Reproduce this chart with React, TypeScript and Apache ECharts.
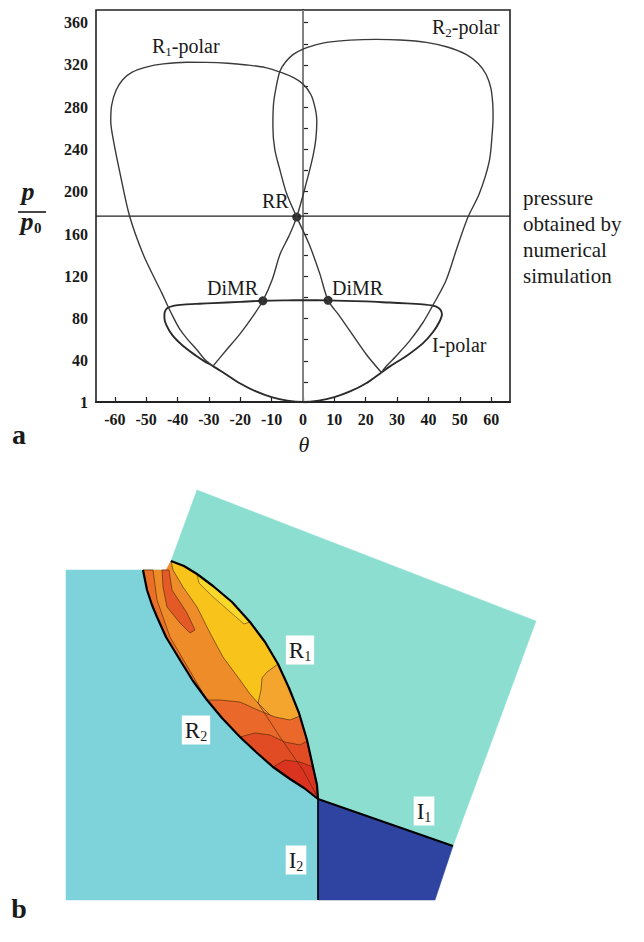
import React, { useEffect, useRef } from 'react';
import * as echarts from 'echarts';

const SERIF = '"Liberation Serif", "Times New Roman", serif';

// ---------- Panel a: shock polars (theta in degrees, p/p0) ----------
const iPolar: number[][] = [
  [0, 97.3], [-5, 97.2], [-12.8, 96.8], [-20, 95.8], [-28.7, 94.6], [-33, 94], [-38, 93.2], [-41, 92.2],
  [-43.2, 90], [-44.1, 86], [-44.2, 81], [-43.6, 74], [-41.6, 64], [-38.4, 54.5], [-34.2, 45], [-31.4, 39.5],
  [-28.7, 35], [-25, 28], [-20, 18.5], [-15, 11], [-10, 5.6], [-5, 2.3], [0, 1],
  [5, 2.3], [10, 5.6], [15, 11], [20, 18.5], [25, 29], [27.6, 34.5], [30.3, 39.5], [33.2, 45],
  [38.2, 56.5], [41.4, 67], [43.5, 77], [44.3, 84], [43.8, 88.5], [42.3, 91.5], [39, 93.2],
  [33, 94.3], [27.6, 95.1], [20, 96.2], [8, 97.2], [0, 97.3],
];
const r1Polar: number[][] = [
  [-28.7, 35], [-31.2, 41], [-34, 51], [-37, 61], [-39.5, 71], [-41.5, 82], [-43.3, 93], [-45, 104],
  [-47, 116], [-51, 141], [-55.3, 177], [-58.3, 217], [-60.4, 248], [-61.3, 267], [-61, 282],
  [-59.6, 296], [-57.5, 306], [-54.6, 313], [-50, 318], [-44.5, 321], [-37, 322.5], [-30.8, 322.4],
  [-24, 321.6], [-18, 320], [-12, 317.5], [-7, 313], [-3, 308], [0, 302], [2.5, 292], [3.8, 280],
  [4.4, 267], [4.1, 250], [3.2, 234], [1.2, 210], [-2, 176], [-4.5, 158], [-7.3, 141], [-9.8, 117],
  [-12.8, 96.8], [-16, 82], [-20.2, 65], [-24.5, 50], [-28.7, 35],
];
const r2Polar: number[][] = [
  [25, 29], [20.2, 46], [15, 68], [11.5, 83], [8, 97.2], [5.4, 122], [2, 150], [-2, 176], [-5.2, 198],
  [-7.3, 220], [-9, 240], [-9.6, 262], [-9.4, 283], [-8.5, 300], [-7.3, 314.5], [-5.5, 323], [-3.1, 330],
  [0, 335], [4, 339], [7.5, 341.4], [15, 343.5], [23.4, 344.2], [31, 343.6], [39.3, 341.4], [46, 337],
  [52, 330], [56, 321], [58.4, 311], [59.9, 298], [60.5, 283], [60.6, 270], [60.4, 258], [59.4, 229],
  [56.2, 198], [52.6, 176], [49, 146], [45.6, 116], [41.3, 92], [38.2, 76], [34, 58.8], [29.7, 44.5],
  [26.6, 35], [25, 29],
];
const rrPoint: number[][] = [[-2, 176]];
const dimrPoints: number[][] = [[-12.8, 96.8], [8, 97.2]];
const simulatedPressure = 177;
const xTickValues = [-60, -50, -40, -30, -20, -10, 0, 10, 20, 30, 40, 50, 60];
const yLabelValues = [1, 40, 80, 120, 160, 200, 240, 280, 320, 360];
const yTickValues = [1, 20, 40, 60, 80, 100, 120, 140, 160, 180, 200, 220, 240, 260, 280, 300, 320, 340, 360];

// ---------- Panel b: schematic flow field (schematic units) ----------
const regionR2Side: number[][] = [[0, 3], [0, 333], [252, 333], [252, 3]];
const r1Edge: number[][] = [
  [105, 342], [118, 337], [131, 329], [147, 317], [166, 301], [184, 281], [199, 261], [212, 239],
  [223, 215], [233, 190], [241, 163], [247, 136], [251, 118], [252, 104],
];
const r2Edge: number[][] = [
  [77, 333], [81, 313], [86, 298], [91, 286], [100, 266], [114, 243], [127, 222], [141, 203],
  [156, 185], [174, 166], [190, 151], [207, 136], [224, 124], [238, 115], [252, 104],
];
const regionR1Side: number[][] = [[131, 413], [470, 282], [387, 57], [252, 104]];
const regionI: number[][] = [[252, 104], [387, 57], [369, 3], [252, 3]];
const lensTop: number[][] = [[100, 333]];
const lightOrangeZone: number[][] = [
  [199, 261], [212, 239], [223, 215], [233, 190], [241, 163], [247, 136], [234, 143], [219, 168],
  [204, 188], [192, 200], [189, 213], [194, 233],
];
const yellowZone: number[][] = [
  [105, 342], [118, 337], [131, 329], [147, 317], [166, 301], [184, 281], [199, 261], [212, 239],
  [201, 231], [196, 225], [195, 213], [192, 200], [184, 209], [174, 223], [157, 246], [144, 270],
  [131, 296], [117, 316], [107, 333],
];
const brightYellowZone: number[][] = [
  [131, 329], [147, 317], [166, 301], [184, 281], [178, 279], [162, 293], [146, 307], [133, 320],
];
const redOrangeZone: number[][] = [
  [141, 203], [156, 185], [174, 166], [190, 151], [207, 136], [224, 124], [238, 115], [252, 104],
  [251, 118], [247, 136], [241, 163], [234, 187], [224, 183], [209, 186], [194, 192], [174, 201], [154, 203],
];
const redZone: number[][] = [
  [174, 166], [190, 151], [207, 136], [224, 124], [238, 115], [252, 104], [251, 118], [247, 136],
  [241, 162], [234, 158], [219, 161], [204, 168], [189, 170],
];
const deepRedZone: number[][] = [
  [207, 136], [224, 124], [238, 115], [252, 104], [251, 118], [247, 136], [234, 141], [219, 143],
];
const r2BandZone: number[][] = [
  [77, 333], [81, 313], [86, 298], [91, 286], [100, 266], [114, 243], [127, 222], [141, 203],
  [131, 220], [104, 266], [91, 303], [87, 333],
];
const darkStripeZone: number[][] = [
  [96, 333], [103, 333], [106, 313], [121, 290], [129, 273], [124, 270], [114, 280], [101, 296], [97, 316],
];
const centerContour: number[][] = [[192, 200], [214, 166], [237, 133], [252, 105]];
const i1Shock: number[][] = [[252, 104], [387, 57]];
const i2Shock: number[][] = [[252, 104], [252, 3]];

export default function App() {
  const ref = useRef<HTMLDivElement>(null);

  useEffect(() => {
    if (!ref.current) return;
    const chart = echarts.init(ref.current, undefined, { renderer: 'svg' });

    // lens: r2 edge down to the junction, r1 edge back up to the tip, then the flat top
    const lensPoly = [...r2Edge, ...[...r1Edge].reverse().slice(1), ...lensTop];
    const tealPoly = [...regionR1Side, ...[...r1Edge].reverse().slice(1)];
    const contour = 'rgba(70,35,5,0.75)';
    const bShapes: any[] = [
      { kind: 'polygon', pts: regionR2Side, fill: '#7dd3d9' },
      { kind: 'polygon', pts: tealPoly, fill: '#8cdfd0' },
      { kind: 'polygon', pts: regionI, fill: '#2f43a0' },
      { kind: 'polygon', pts: lensPoly, fill: '#ef8c2a' },
      { kind: 'polygon', pts: r2BandZone, fill: '#ea7028', stroke: contour, lw: 0.8 },
      { kind: 'polygon', pts: darkStripeZone, fill: '#e45a26', stroke: contour, lw: 0.8 },
      { kind: 'polygon', pts: lightOrangeZone, fill: '#f4a52e', stroke: contour, lw: 0.8 },
      { kind: 'polygon', pts: yellowZone, fill: '#f8c41c', stroke: contour, lw: 0.8 },
      { kind: 'polygon', pts: brightYellowZone, fill: '#f9d82c', stroke: contour, lw: 0.7 },
      { kind: 'polygon', pts: redOrangeZone, fill: '#e9682a', stroke: contour, lw: 0.8 },
      { kind: 'polygon', pts: redZone, fill: '#e24c25', stroke: contour, lw: 0.8 },
      { kind: 'polygon', pts: deepRedZone, fill: '#da331f', stroke: contour, lw: 0.8 },
      { kind: 'line', pts: centerContour, stroke: contour, lw: 0.8 },
      { kind: 'line', pts: r1Edge, stroke: '#000', lw: 2.2 },
      { kind: 'line', pts: r2Edge, stroke: '#000', lw: 2.2 },
      { kind: 'line', pts: i1Shock, stroke: '#000', lw: 2 },
      { kind: 'line', pts: i2Shock, stroke: '#000', lw: 1.6 },
    ];

    const txt = (x: number, y: number, text: string, size: number, extra: any = {}) => ({
      type: 'text',
      x,
      y,
      z: 100,
      silent: true,
      style: {
        text,
        fontFamily: SERIF,
        fontSize: size,
        fill: '#1a1a1a',
        textAlign: 'left',
        textVerticalAlign: 'middle',
        ...extra,
      },
    });
    const subRich = (size: number, sub: number) => ({
      n: { fontFamily: SERIF, fontSize: size, fill: '#1a1a1a', lineHeight: size + 4, verticalAlign: 'middle' },
      s: { fontFamily: SERIF, fontSize: sub, fill: '#1a1a1a', lineHeight: sub + 1, verticalAlign: 'bottom' },
    });
    const boxLabel = (x: number, y: number, main: string, sub: string) => ({
      type: 'text',
      x,
      y,
      z: 100,
      silent: true,
      style: {
        text: `{n|${main}}{s|${sub}}`,
        rich: subRich(23, 14),
        textAlign: 'center',
        textVerticalAlign: 'middle',
        backgroundColor: '#ffffff',
        padding: [1, 3, 1, 3],
      },
    });

    const axisLabelFont = { fontFamily: SERIF, fontSize: 15, fontWeight: 'bold', color: '#1a1a1a' };

    chart.setOption({
      animation: false,
      backgroundColor: '#ffffff',
      grid: [
        { left: 96, top: 10, width: 414, height: 392, show: true, borderColor: '#222', borderWidth: 1.6, backgroundColor: 'transparent' },
        { left: 66, top: 488, width: 475, height: 415, show: false },
      ],
      xAxis: [
        {
          gridIndex: 0,
          type: 'value',
          min: -66,
          max: 66,
          axisLine: { show: true, lineStyle: { color: '#222', width: 2 } },
          axisTick: { show: true, inside: true, length: 5, customValues: xTickValues, lineStyle: { color: '#222', width: 1.2 } },
          axisLabel: { show: true, customValues: xTickValues, margin: 9, ...axisLabelFont, fontSize: 16 },
          splitLine: { show: false },
        },
        { gridIndex: 1, type: 'value', min: 0, max: 475, show: false },
      ],
      yAxis: [
        {
          gridIndex: 0,
          type: 'value',
          min: 1,
          max: 372,
          axisLine: { show: true, lineStyle: { color: '#222', width: 2 } },
          axisTick: { show: true, inside: true, length: 5, customValues: yTickValues, lineStyle: { color: '#222', width: 1.2 } },
          axisLabel: { show: true, customValues: yLabelValues, margin: 8, ...axisLabelFont, fontSize: 16 },
          splitLine: { show: false },
        },
        { gridIndex: 1, type: 'value', min: 0, max: 415, show: false },
      ],
      series: [
        {
          type: 'line', xAxisIndex: 0, yAxisIndex: 0, silent: true, symbol: 'none',
          data: [[0, 1], [0, 372]], lineStyle: { color: '#9a9a9a', width: 1.6 },
        },
        {
          type: 'line', xAxisIndex: 0, yAxisIndex: 0, silent: true, symbol: 'none',
          data: [[-66, simulatedPressure], [66, simulatedPressure]], lineStyle: { color: '#222', width: 1.2 },
        },
        {
          name: 'I-polar', type: 'line', xAxisIndex: 0, yAxisIndex: 0, silent: true, symbol: 'none', smooth: 0.3,
          data: iPolar, lineStyle: { color: '#2a2a2a', width: 1.9 },
        },
        {
          name: 'R1-polar', type: 'line', xAxisIndex: 0, yAxisIndex: 0, silent: true, symbol: 'none', smooth: 0.3,
          data: r1Polar, lineStyle: { color: '#3a3a3a', width: 1.4 },
        },
        {
          name: 'R2-polar', type: 'line', xAxisIndex: 0, yAxisIndex: 0, silent: true, symbol: 'none', smooth: 0.3,
          data: r2Polar, lineStyle: { color: '#3a3a3a', width: 1.4 },
        },
        {
          type: 'scatter', xAxisIndex: 0, yAxisIndex: 0, silent: true, symbolSize: 9,
          data: [...rrPoint, ...dimrPoints], itemStyle: { color: '#000' },
        },
        {
          type: 'custom', xAxisIndex: 1, yAxisIndex: 1, silent: true, clip: false,
          data: bShapes.map((s) => s.pts[0]),
          encode: { x: 0, y: 1 },
          renderItem: (params: any, api: any) => {
            const s = bShapes[params.dataIndex];
            const points = s.pts.map((p: number[]) => api.coord(p));
            if (s.kind === 'polygon') {
              return {
                type: 'polygon',
                shape: { points },
                style: { fill: s.fill, stroke: s.stroke || s.fill, lineWidth: s.lw || 0.5 },
              };
            }
            return {
              type: 'polyline',
              shape: { points },
              style: { fill: 'none', stroke: s.stroke, lineWidth: s.lw, lineJoin: 'round' },
            };
          },
        },
      ],
      graphic: [
        {
          type: 'text', x: 152, y: 46, z: 100, silent: true,
          style: { text: '{n|R}{s|1}{n|-polar}', rich: subRich(20, 13), textVerticalAlign: 'middle' },
        },
        {
          type: 'text', x: 432, y: 27, z: 100, silent: true,
          style: { text: '{n|R}{s|2}{n|-polar}', rich: subRich(20, 13), textVerticalAlign: 'middle' },
        },
        txt(262, 201, 'RR', 20),
        txt(207, 288, 'DiMR', 20),
        txt(332, 288, 'DiMR', 20),
        txt(432, 345, 'I-polar', 20),
        txt(523, 185, 'pressure\nobtained by\nnumerical\nsimulation', 21, { textVerticalAlign: 'top', lineHeight: 26 }),
        txt(28, 191, 'p', 26, { fontStyle: 'italic', fontWeight: 'bold', textAlign: 'center' }),
        { type: 'line', z: 100, silent: true, shape: { x1: 18, y1: 212, x2: 46, y2: 212 }, style: { stroke: '#1a1a1a', lineWidth: 1.6 } },
        txt(27, 221, 'p', 26, { fontStyle: 'italic', fontWeight: 'bold', textAlign: 'center' }),
        txt(34, 228, '0', 15, { fontWeight: 'bold' }),
        txt(304, 444, 'θ', 22, { fontStyle: 'italic', textAlign: 'center' }),
        txt(19, 434, 'a', 28, { fontWeight: 'bold', textAlign: 'center' }),
        txt(19, 908, 'b', 28, { fontWeight: 'bold', textAlign: 'center' }),
        boxLabel(300, 650, 'R', '1'),
        boxLabel(196, 730, 'R', '2'),
        boxLabel(424, 811, 'I', '1'),
        boxLabel(296, 860, 'I', '2'),
      ],
    });

    return () => chart.dispose();
  }, []);

  return (
    <div
      ref={ref}
      style={{ position: 'absolute', left: 0, top: 0, width: 644, height: 942, background: '#fff' }}
    />
  );
}
